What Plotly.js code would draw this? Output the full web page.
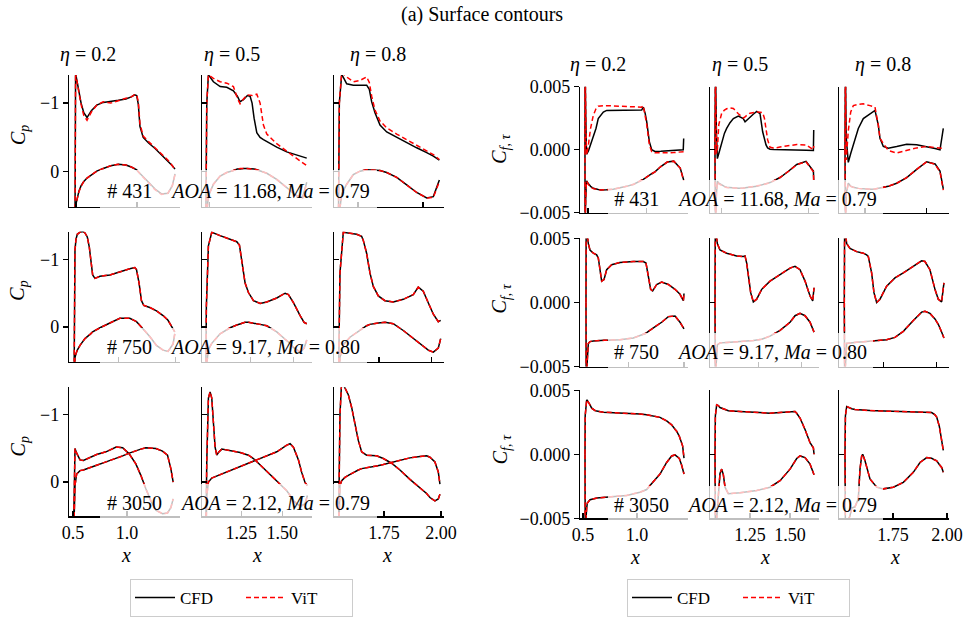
<!DOCTYPE html>
<html>
<head>
<meta charset="utf-8">
<script src="https://cdn.plot.ly/plotly-3.0.1.min.js"></script>
<style>
  html, body { margin: 0; padding: 0; background: #ffffff; }
  #chart { width: 963px; height: 617px; }
</style>
</head>
<body>
<div id="chart"></div>
<script>
// ------------------------------------------------------------------
// Labels
// ------------------------------------------------------------------
const etaValues  = ['0.2', '0.5', '0.8'];
const sampleIds  = ['431', '750', '3050'];
const aoaValues  = ['11.68', '9.17', '2.12'];
const machValues = ['0.79', '0.80', '0.79'];
const seriesNames = ['CFD', 'ViT'];

const cpTickVals = [-1, 0];
const cpTickText = ['\u22121', '0'];
const cfTickVals = [-0.005, 0, 0.005];
const cfTickText = ['\u22120.005', '0.000', '0.005'];
const xTickVals = [[0.5, 1.0], [1.25, 1.5], [1.75, 2.0]];
const xTickText = [['0.5', '1.0'], ['1.25', '1.50'], ['1.75', '2.00']];
// unlabelled x tick marks of the upper two rows
const cpRowTicks = [[[0.528, 1.093], [1.059], [1.636, 1.921]],
                    [[0.919, 1.451], [1.305, 1.567], [1.728, 1.959]]];
const cfRowTicks = [[[0.546, 1.089], [1.073, 1.615], [1.620, 1.906]],
                    [[0.919, 1.435], [1.302, 1.573], [1.705, 1.952]]];

// ------------------------------------------------------------------
// Sample #431 : Cp  (sections eta = 0.2, 0.5, 0.8)
// ------------------------------------------------------------------
const cpX_431 = [
  [0.518, 0.520, 0.524, 0.53, 0.54, 0.555, 0.575, 0.60, 0.63, 0.67, 0.72, 0.78, 0.85, 0.92, 0.99, 1.04, 1.07, 1.09, 1.105, 1.12, 1.15, 1.20, 1.26, 1.32, 1.38, 1.42, 1.445],
  [1.034, 1.0405, 1.0505, 1.081, 1.122, 1.1625, 1.203, 1.227, 1.2436, 1.264, 1.288, 1.3046, 1.3168, 1.329, 1.3455, 1.3656, 1.386, 1.4065, 1.467, 1.528, 1.589, 1.625, 1.650],
  [1.5495, 1.554, 1.5644, 1.5863, 1.6153, 1.6446, 1.6739, 1.6855, 1.6959, 1.7104, 1.7324, 1.7617, 1.8056, 1.8495, 1.8933, 1.9372, 1.9664, 1.9928]
];
const cpUpCFD_431 = [
  [1.0, -0.6, -1.45, -1.38, -1.28, -1.17, -1.0, -0.86, -0.79, -0.89, -0.97, -1.01, -1.02, -1.04, -1.06, -1.09, -1.12, -1.11, -0.98, -0.66, -0.50, -0.42, -0.34, -0.25, -0.16, -0.09, -0.04],
  [1.0, -1.0, -1.41, -1.31, -1.24, -1.23, -1.18, -1.10, -1.02, -1.05, -1.11, -1.10, -1.0, -0.78, -0.57, -0.50, -0.47, -0.44, -0.36, -0.29, -0.25, -0.22, -0.20],
  [1.0, -1.0, -1.42, -1.28, -1.26, -1.26, -1.26, -1.20, -1.02, -0.86, -0.68, -0.58, -0.50, -0.42, -0.35, -0.28, -0.23, -0.17]
];
const cpUpViT_431 = [
  [1.0, -0.6, -1.45, -1.38, -1.27, -1.15, -0.98, -0.82, -0.75, -0.87, -0.97, -1.02, -1.00, -1.04, -1.07, -1.09, -1.12, -1.12, -1.02, -0.70, -0.52, -0.44, -0.35, -0.25, -0.17, -0.09, -0.03],
  [1.0, -1.0, -1.41, -1.36, -1.31, -1.29, -1.24, -1.07, -0.99, -1.06, -1.12, -1.11, -1.11, -1.12, -1.13, -1.0, -0.68, -0.55, -0.41, -0.30, -0.20, -0.13, -0.09],
  [1.0, -1.0, -1.45, -1.38, -1.31, -1.33, -1.38, -1.30, -1.10, -0.90, -0.74, -0.64, -0.55, -0.47, -0.38, -0.31, -0.25, -0.18]
];
const cpLoCFD_431 = [
  [1.0, 0.75, 0.55, 0.45, 0.36, 0.28, 0.2, 0.14, 0.09, 0.04, -0.01, -0.05, -0.09, -0.11, -0.10, -0.07, -0.05, -0.03, 0.0, 0.02, 0.07, 0.15, 0.25, 0.32, 0.31, 0.2, 0.03],
  [1.0, 0.6, 0.35, 0.18, 0.06, 0.01, -0.02, -0.04, -0.04, -0.05, -0.05, -0.05, -0.04, -0.04, -0.03, -0.01, 0.0, 0.02, 0.11, 0.23, 0.35, 0.37, 0.15],
  [1.0, 0.6, 0.32, 0.18, 0.04, -0.01, -0.03, -0.03, -0.03, -0.03, -0.02, 0.01, 0.08, 0.19, 0.30, 0.38, 0.36, 0.12]
];
const cpLoViT_431 = [
  [1.0, 0.75, 0.55, 0.45, 0.37, 0.29, 0.21, 0.14, 0.09, 0.04, -0.01, -0.05, -0.09, -0.11, -0.10, -0.07, -0.05, -0.03, 0.0, 0.03, 0.08, 0.16, 0.26, 0.33, 0.31, 0.2, 0.04],
  [1.0, 0.6, 0.35, 0.18, 0.06, 0.01, -0.02, -0.04, -0.05, -0.05, -0.05, -0.05, -0.04, -0.04, -0.03, -0.01, 0.0, 0.02, 0.11, 0.23, 0.35, 0.38, 0.17],
  [1.0, 0.6, 0.32, 0.18, 0.04, -0.01, -0.03, -0.03, -0.03, -0.03, -0.02, 0.01, 0.08, 0.19, 0.30, 0.38, 0.37, 0.14]
];

// Sample #431 : Cf,tau (values in units of 1e-3)
const cfX_431 = [
  [0.518, 0.519, 0.525, 0.530, 0.534, 0.55, 0.57, 0.595, 0.62, 0.641, 0.665, 0.688, 0.719, 0.78, 0.85, 0.904, 0.97, 1.043, 1.058, 1.075, 1.09, 1.114, 1.136, 1.166, 1.22, 1.28, 1.34, 1.40, 1.428, 1.432],
  [1.031, 1.034, 1.04, 1.046, 1.055, 1.073, 1.09, 1.104, 1.125, 1.146, 1.177, 1.208, 1.219, 1.235, 1.25, 1.27, 1.292, 1.3125, 1.329, 1.34, 1.35, 1.36, 1.375, 1.40, 1.4375, 1.49, 1.542, 1.60, 1.646, 1.648],
  [1.5278, 1.5297, 1.5333, 1.5430, 1.5542, 1.5663, 1.5894, 1.6125, 1.6435, 1.6667, 1.6820, 1.6898, 1.7052, 1.7281, 1.7671, 1.8134, 1.8597, 1.9060, 1.9448, 1.9676, 1.9829]
];
const cfUpCFD_431 = [
  [0, 7, 3, 0.5, -0.35, -0.1, 0.39, 0.9, 1.69, 2.47, 2.73, 2.99, 3.12, 3.12, 3.12, 3.12, 3.12, 3.15, 3.38, 2.9, 2.21, 0.65, 0.0, -0.13, -0.12, -0.08, -0.05, -0.02, 0.0, 0.9],
  [0, 7, 1.5, -0.7, -0.3, 0.65, 1.3, 1.69, 2.15, 2.47, 2.68, 2.47, 2.21, 2.4, 2.6, 2.82, 3.04, 2.86, 1.43, 0.8, 0.39, 0.15, 0.05, 0.02, 0, -0.02, -0.03, -0.04, -0.05, 1.56],
  [0, 7, 1.0, -1.0, -0.3, 0.39, 1.69, 2.47, 2.86, 3.12, 1.95, 0.91, 0.26, 0.13, 0.26, 0.44, 0.39, 0.26, 0.1, 0.0, 1.69]
];
const cfUpViT_431 = [
  [0, 7, 3, 0.5, -0.4, 0.39, 1.7, 2.73, 3.25, 3.46, 3.5, 3.5, 3.5, 3.48, 3.45, 3.43, 3.4, 3.38, 3.5, 2.7, 2.0, 0.4, -0.15, -0.24, -0.26, -0.24, -0.22, -0.2, -0.18, -0.15],
  [0, 7, -0.3, 0.0, 2.0, 2.9, 3.15, 3.25, 3.32, 3.28, 2.86, 2.52, 2.6, 2.8, 2.9, 2.95, 2.99, 2.98, 2.94, 2.5, 1.5, 0.8, 0.2, 0.13, 0.22, 0.35, 0.42, 0.38, 0.0, 0.3],
  [0, 7, -0.8, 1.5, 3.0, 3.5, 3.6, 3.64, 3.5, 3.38, 1.95, 0.91, 0.5, -0.05, -0.26, -0.05, 0.15, 0.26, 0.2, 0.13, 0.1]
];
const cfLoCFD_431 = [
  [0, -6, -4.0, -2.8, -2.47, -2.7, -2.9, -3.05, -3.12, -3.15, -3.18, -3.19, -3.17, -3.12, -3.02, -2.9, -2.73, -2.45, -2.34, -2.25, -2.15, -2.0, -1.9, -1.75, -1.33, -0.97, -0.9, -1.45, -2.2, -2.4],
  [0, -6, -3.5, -2.5, -2.65, -2.8, -2.9, -2.97, -3.0, -3.03, -3.04, -3.03, -3.02, -3.0, -2.98, -2.95, -2.9, -2.82, -2.78, -2.75, -2.7, -2.66, -2.6, -2.45, -2.2, -1.7, -1.17, -0.92, -1.69, -2.4],
  [0, -6, -3.5, -2.65, -2.88, -2.97, -3.06, -3.1, -3.12, -3.1, -3.06, -3.04, -3.0, -2.9, -2.65, -2.2, -1.55, -0.95, -1.12, -1.69, -3.1]
];
const cfLoViT_431 = [
  [0, -6, -4.0, -2.8, -2.5, -2.75, -2.95, -3.08, -3.14, -3.16, -3.18, -3.19, -3.17, -3.12, -3.02, -2.9, -2.73, -2.45, -2.34, -2.25, -2.15, -2.0, -1.9, -1.75, -1.33, -0.97, -0.9, -1.45, -2.2, -2.45],
  [0, -6, -3.5, -2.55, -2.7, -2.85, -2.93, -2.99, -3.02, -3.04, -3.05, -3.04, -3.02, -3.0, -2.98, -2.95, -2.9, -2.82, -2.78, -2.75, -2.7, -2.66, -2.6, -2.45, -2.2, -1.72, -1.18, -0.95, -1.75, -2.5],
  [0, -6, -3.5, -2.7, -2.9, -2.98, -3.06, -3.1, -3.12, -3.1, -3.06, -3.04, -3.0, -2.9, -2.65, -2.2, -1.55, -0.95, -1.15, -1.75, -3.2]
];

// ------------------------------------------------------------------
// Sample #750 (ViT indistinguishable from CFD at this scale)
// ------------------------------------------------------------------
const cpX_750 = [
  [0.509, 0.512, 0.5185, 0.528, 0.540, 0.565, 0.59, 0.611, 0.6325, 0.651, 0.6635, 0.682, 0.7035, 0.75, 0.842, 0.9335, 1.026, 1.0725, 1.088, 1.112, 1.134, 1.1555, 1.211, 1.273, 1.334, 1.38, 1.427, 1.4425],
  [1.034, 1.038, 1.0505, 1.0709, 1.1217, 1.1827, 1.2234, 1.2396, 1.2478, 1.26, 1.2742, 1.2945, 1.325, 1.3657, 1.4063, 1.4673, 1.5181, 1.5384, 1.5689, 1.6096, 1.634, 1.6502],
  [1.5495, 1.5568, 1.5714, 1.6007, 1.6299, 1.6518, 1.6591, 1.6737, 1.6883, 1.703, 1.7249, 1.7541, 1.7906, 1.8345, 1.8783, 1.9002, 1.9221, 1.944, 1.9664, 1.988, 1.9986]
];
const cpUpCFD_750 = [
  [1.0, -0.3, -1.14, -1.30, -1.37, -1.40, -1.41, -1.39, -1.33, -1.18, -0.99, -0.77, -0.72, -0.75, -0.77, -0.82, -0.86, -0.88, -0.85, -0.65, -0.39, -0.32, -0.29, -0.24, -0.17, -0.1, 0.02, 0.07],
  [1.0, -0.3, -1.2, -1.40, -1.35, -1.30, -1.26, -1.21, -1.09, -0.85, -0.65, -0.51, -0.39, -0.35, -0.37, -0.43, -0.5, -0.48, -0.36, -0.17, -0.07, -0.05],
  [1.0, -0.8, -1.40, -1.39, -1.37, -1.34, -1.28, -1.09, -0.8, -0.6, -0.46, -0.39, -0.37, -0.41, -0.48, -0.59, -0.53, -0.36, -0.19, -0.08, -0.1]
];
const cpLoCFD_750 = [
  [1.0, 0.7, 0.45, 0.39, 0.34, 0.27, 0.21, 0.17, 0.14, 0.12, 0.1, 0.07, 0.05, 0.01, -0.06, -0.13, -0.13, -0.1, -0.08, -0.04, 0.0, 0.03, 0.14, 0.27, 0.34, 0.36, 0.25, 0.1],
  [1.0, 0.6, 0.33, 0.24, 0.1, 0.01, -0.03, -0.05, -0.05, -0.06, -0.07, -0.07, -0.06, -0.04, -0.02, 0.07, 0.18, 0.22, 0.3, 0.37, 0.31, 0.19],
  [1.0, 0.45, 0.26, 0.15, 0.08, 0.03, 0.01, -0.02, -0.04, -0.05, -0.06, -0.07, -0.05, 0.05, 0.17, 0.23, 0.29, 0.34, 0.37, 0.31, 0.17]
];
const cpUpViT_750 = cpUpCFD_750;
const cpLoViT_750 = cpLoCFD_750;

const cfX_750 = [
  [0.5276, 0.529, 0.549, 0.5645, 0.5954, 0.6263, 0.6417, 0.6571, 0.6726, 0.6942, 0.7189, 0.7652, 0.8424, 0.9657, 1.0583, 1.083, 1.105, 1.1262, 1.145, 1.182, 1.228, 1.29, 1.3517, 1.398, 1.429, 1.435],
  [1.0313, 1.033, 1.0458, 1.0625, 1.104, 1.1667, 1.2083, 1.2188, 1.2292, 1.2396, 1.2542, 1.2708, 1.2917, 1.3229, 1.375, 1.4375, 1.5, 1.5313, 1.5625, 1.5938, 1.625, 1.6417, 1.65],
  [1.5246, 1.5260, 1.5354, 1.5508, 1.5817, 1.6125, 1.6280, 1.6357, 1.6511, 1.6619, 1.6743, 1.6897, 1.7205, 1.7591, 1.7977, 1.8440, 1.8826, 1.8980, 1.9211, 1.9443, 1.9597, 1.9751, 1.9859]
];
const cfUpCFD_750 = [
  [0, 6, 4.6, 4.1, 3.85, 3.72, 3.46, 2.31, 1.67, 1.79, 2.56, 2.95, 3.13, 3.2, 3.2, 3.08, 2.05, 1.03, 0.9, 1.41, 1.59, 1.41, 1.03, 0.64, 0.15, 0.7],
  [0, 6, 4.6, 4.1, 3.85, 3.64, 3.59, 3.64, 3.08, 2.05, 0.77, 0.05, 0.26, 1.03, 1.67, 2.18, 2.69, 2.82, 2.56, 1.67, 0.51, 0.13, 1.15],
  [0, 6, 4.6, 4.23, 3.97, 3.85, 3.72, 3.59, 2.31, 0.77, 0.0, 0.26, 1.28, 1.92, 2.31, 2.82, 3.26, 3.2, 2.56, 1.03, 0.26, 0.05, 1.54]
];
const cfLoCFD_750 = [
  [0, -6, -3.2, -3.05, -3.0, -2.97, -2.96, -2.96, -2.95, -2.95, -2.95, -2.94, -2.9, -2.77, -2.51, -2.4, -2.25, -2.1, -2.02, -1.8, -1.54, -1.1, -1.05, -1.54, -1.92, -2.05],
  [0, -6, -3.3, -3.15, -3.12, -3.08, -3.05, -3.04, -3.03, -3.02, -3.0, -2.97, -2.93, -2.87, -2.62, -2.18, -1.54, -1.03, -0.85, -1.03, -1.54, -2.0, -2.31],
  [0, -6, -3.2, -3.15, -3.1, -3.07, -3.05, -3.05, -3.03, -3.02, -3.0, -2.97, -2.9, -2.72, -2.25, -1.41, -0.75, -0.69, -0.85, -1.28, -1.7, -2.3, -2.77]
];
const cfUpViT_750 = cfUpCFD_750;
const cfLoViT_750 = cfLoCFD_750;

// ------------------------------------------------------------------
// Sample #3050 (ViT indistinguishable from CFD at this scale)
// ------------------------------------------------------------------
const cpX_3050 = [
  [0.503, 0.5093, 0.5185, 0.534, 0.565, 0.5958, 0.642, 0.719, 0.8056, 0.9, 0.96, 1.0204, 1.082, 1.1284, 1.1747, 1.221, 1.2673, 1.329, 1.3753, 1.4062, 1.4278],
  [1.034, 1.0404, 1.0505, 1.0607, 1.0709, 1.081, 1.0912, 1.1014, 1.1115, 1.1319, 1.1827, 1.2437, 1.2945, 1.325, 1.3555, 1.4063, 1.4673, 1.5283, 1.5486, 1.5689, 1.5994, 1.6197, 1.6401, 1.654],
  [1.5495, 1.5568, 1.5641, 1.5787, 1.5933, 1.608, 1.6226, 1.6372, 1.6518, 1.6737, 1.7176, 1.7468, 1.7833, 1.8199, 1.8637, 1.9076, 1.9368, 1.9514, 1.9733, 1.988, 1.9953]
];
const cpUpCFD_3050 = [
  [1.0, -0.1, -0.5, -0.43, -0.33, -0.32, -0.35, -0.41, -0.45, -0.52, -0.51, -0.42, -0.27, -0.1, 0.1, 0.28, 0.42, 0.47, 0.46, 0.38, 0.25],
  [1.0, -0.3, -1.25, -1.34, -1.25, -0.91, -0.52, -0.4, -0.44, -0.49, -0.47, -0.44, -0.4, -0.35, -0.28, -0.16, -0.01, 0.13, 0.2, 0.28, 0.34, 0.35, 0.32, 0.2],
  [1.0, -1.0, -1.5, -1.4, -1.3, -1.11, -0.86, -0.62, -0.45, -0.4, -0.39, -0.35, -0.28, -0.18, -0.04, 0.08, 0.17, 0.23, 0.28, 0.25, 0.18]
];
const cpLoCFD_3050 = [
  [1.0, 0.3, 0.05, -0.12, -0.17, -0.18, -0.21, -0.25, -0.3, -0.35, -0.39, -0.43, -0.47, -0.49, -0.51, -0.51, -0.5, -0.46, -0.40, -0.2, 0.0],
  [1.0, 0.2, 0.0, -0.04, -0.06, -0.07, -0.08, -0.09, -0.1, -0.12, -0.17, -0.23, -0.28, -0.31, -0.34, -0.39, -0.45, -0.55, -0.57, -0.52, -0.33, -0.14, 0.01, 0.05],
  [1.0, 0.05, -0.02, -0.07, -0.1, -0.13, -0.16, -0.18, -0.2, -0.21, -0.24, -0.26, -0.29, -0.33, -0.36, -0.38, -0.39, -0.37, -0.3, -0.15, 0.03]
];
const cpUpViT_3050 = cpUpCFD_3050;
const cpLoViT_3050 = cpLoCFD_3050;

const cfX_3050 = [
  [0.5184, 0.52, 0.5338, 0.54, 0.5647, 0.5801, 0.611, 0.6264, 0.6881, 0.7807, 0.9041, 1.0276, 1.0893, 1.1201, 1.2127, 1.2744, 1.3053, 1.3207, 1.3516, 1.367, 1.3917, 1.4133, 1.4226, 1.435],
  [1.0313, 1.0335, 1.0417, 1.0521, 1.0625, 1.0729, 1.0833, 1.0938, 1.1042, 1.1146, 1.1875, 1.2917, 1.375, 1.4375, 1.5, 1.5313, 1.5417, 1.5625, 1.5938, 1.625, 1.6458, 1.65],
  [1.5278, 1.5297, 1.5356, 1.5509, 1.5588, 1.5741, 1.5894, 1.5972, 1.6050, 1.6097, 1.6204, 1.6435, 1.6746, 1.7051, 1.7514, 1.7977, 1.8440, 1.8750, 1.9060, 1.9292, 1.9443, 1.9523, 1.9644, 1.9754, 1.9829]
];
const cfUpCFD_3050 = [
  [0, 3.0, 4.24, 4.2, 3.86, 3.6, 3.42, 3.37, 3.29, 3.26, 3.22, 3.14, 3.08, 3.03, 2.88, 2.6, 2.44, 2.3, 1.95, 1.8, 1.4, 0.9, 0.64, -0.3],
  [0, 3.0, 3.86, 3.8, 3.65, 3.6, 3.5, 3.45, 3.42, 3.4, 3.34, 3.26, 3.21, 3.26, 3.34, 3.34, 3.2, 2.83, 1.93, 0.9, 0.51, 0.0],
  [0, 3.0, 3.73, 3.6, 3.55, 3.5, 3.47, 3.45, 3.44, 3.43, 3.42, 3.41, 3.39, 3.38, 3.36, 3.33, 3.3, 3.29, 3.27, 3.26, 3.08, 2.9, 2.19, 1.16, 0.3]
];
const cfLoCFD_3050 = [
  [0, -6, -4.2, -3.8, -3.55, -3.5, -3.45, -3.42, -3.37, -3.34, -3.21, -2.96, -2.75, -2.44, -1.54, -0.64, -0.35, -0.13, -0.05, -0.15, -0.33, -0.85, -1.16, -1.54],
  [0, -6, -5, -3.0, -1.5, -1.16, -1.6, -2.57, -2.9, -3.08, -3.0, -2.83, -2.57, -2.06, -1.16, -0.55, -0.33, -0.13, -0.26, -0.77, -1.54, -1.6],
  [0, -6, -5.5, -4.8, -4.2, -4.1, -3.47, -1.16, -0.13, 0.0, -0.51, -1.93, -2.57, -2.7, -2.57, -2.19, -1.41, -0.64, -0.26, -0.31, -0.45, -0.51, -0.8, -1.03, -1.41]
];
const cfUpViT_3050 = cfUpCFD_3050;
const cfLoViT_3050 = cfLoCFD_3050;

// Grouped by sample (row)
const cpX = [cpX_431, cpX_750, cpX_3050];
const cpUpCFD = [cpUpCFD_431, cpUpCFD_750, cpUpCFD_3050];
const cpLoCFD = [cpLoCFD_431, cpLoCFD_750, cpLoCFD_3050];
const cpUpViT = [cpUpViT_431, cpUpViT_750, cpUpViT_3050];
const cpLoViT = [cpLoViT_431, cpLoViT_750, cpLoViT_3050];
const cfX = [cfX_431, cfX_750, cfX_3050];
const cfUpCFD = [cfUpCFD_431, cfUpCFD_750, cfUpCFD_3050];
const cfLoCFD = [cfLoCFD_431, cfLoCFD_750, cfLoCFD_3050];
const cfUpViT = [cfUpViT_431, cfUpViT_750, cfUpViT_3050];
const cfLoViT = [cfLoViT_431, cfLoViT_750, cfLoViT_3050];

// ------------------------------------------------------------------
// Geometry & style
// ------------------------------------------------------------------
const W = 963, H = 617;
const fx = p => p / W;
const fy = p => 1 - p / H;
const FONT = '"Liberation Serif", "DejaVu Serif", serif';
const BLACK = '#000000', RED = '#ff0000';

const panelDefs = [
  { kind: 'cp',
    cols: [[69, 180], [202, 312], [334, 444]],
    rows: [[76, 210], [235, 367], [393, 524]],
    xr: [[0.463, 1.491], [1.0114, 1.6821], [1.5306, 2.0131]],
    yr: [0.51, -1.41],
    X: cpX, UC: cpUpCFD, LC: cpLoCFD, UV: cpUpViT, LV: cpLoViT, scale: 1,
    tickVals: cpTickVals, tickText: cpTickText, rowTicks: cpRowTicks,
    legend: 'legend' },
  { kind: 'cf',
    cols: [[580, 688], [710, 819], [839, 949]],
    rows: [[88, 216], [242, 372], [396, 526]],
    xr: [[0.472, 1.472], [1.0, 1.681], [1.5, 2.0093]],
    yr: [-0.005, 0.005],
    X: cfX, UC: cfUpCFD, LC: cfLoCFD, UV: cfUpViT, LV: cfLoViT, scale: 1e-3,
    tickVals: cfTickVals, tickText: cfTickText, rowTicks: cfRowTicks,
    legend: 'legend2' }
];

const traces = [];
const layout = {
  width: W, height: H,
  margin: { l: 0, r: 0, t: 0, b: 0, pad: 0 },
  paper_bgcolor: '#ffffff', plot_bgcolor: 'rgba(0,0,0,0)',
  font: { family: FONT, color: '#000000', size: 18 },
  showlegend: true,
  annotations: []
};

panelDefs.forEach((P, pi) => {
  for (let r = 0; r < 3; r++) {
    for (let c = 0; c < 3; c++) {
      const n = pi * 9 + r * 3 + c + 1;
      const xa = 'x' + (n === 1 ? '' : n), ya = 'y' + (n === 1 ? '' : n);
      const xs = P.X[r][c];
      const sc = v => v * P.scale;
      const first = (r === 0 && c === 0);
      const curves = [
        { y: P.UC[r][c], name: seriesNames[0], color: BLACK, dash: 'solid', show: first },
        { y: P.LC[r][c], name: seriesNames[0], color: BLACK, dash: 'solid', show: false },
        { y: P.UV[r][c], name: seriesNames[1], color: RED, dash: '5px,3px', show: first },
        { y: P.LV[r][c], name: seriesNames[1], color: RED, dash: '5px,3px', show: false }
      ];
      curves.forEach(cv => {
        traces.push({
          type: 'scatter', mode: 'lines',
          x: xs, y: cv.y.map(sc),
          xaxis: xa, yaxis: ya,
          name: cv.name, legendgroup: P.kind + cv.name,
          showlegend: cv.show, legend: P.legend,
          line: { color: cv.color, width: 1.5, dash: cv.dash },
          hoverinfo: 'skip'
        });
      });
      const bottom = (r === 2);
      const xAxis = {
        domain: [fx(P.cols[c][0]), fx(P.cols[c][1])],
        range: P.xr[c], anchor: ya,
        showline: true, linecolor: BLACK, linewidth: 1.2, mirror: false,
        showgrid: false, zeroline: false,
        ticks: 'inside', ticklen: 5, tickwidth: 1.2, tickcolor: BLACK,
        tickmode: 'array',
        tickvals: bottom ? xTickVals[c] : P.rowTicks[r][c],
        showticklabels: bottom,
        tickfont: { family: FONT, size: 18, color: BLACK },
        fixedrange: true
      };
      if (bottom) xAxis.ticktext = xTickText[c];
      layout['xaxis' + (n === 1 ? '' : n)] = xAxis;
      const yAxis = {
        domain: [fy(P.rows[r][1]), fy(P.rows[r][0])],
        range: P.yr, anchor: xa,
        showline: true, linecolor: BLACK, linewidth: 1.2, mirror: false,
        showgrid: false, zeroline: false,
        ticks: c === 0 ? 'outside' : 'inside', ticklen: 5, tickwidth: 1.2, tickcolor: BLACK,
        tickmode: 'array', tickvals: P.tickVals,
        showticklabels: c === 0,
        tickfont: { family: FONT, size: 18, color: BLACK },
        fixedrange: true
      };
      if (c === 0) yAxis.ticktext = P.tickText;
      layout['yaxis' + (n === 1 ? '' : n)] = yAxis;
    }
  }
});

// ------------------------------------------------------------------
// Text annotations
// ------------------------------------------------------------------
const A = layout.annotations;
const txt = (text, x, y, size, extra, fontExtra) => A.push(Object.assign({
  text, x: fx(x), y: fy(y), xref: 'paper', yref: 'paper',
  xanchor: 'center', yanchor: 'middle', showarrow: false,
  font: Object.assign({ family: FONT, size, color: BLACK }, fontExtra || {})
}, extra || {}));

txt('(a) Surface contours', 482, 15, 20);

const etaPos = [[[88, 55], [232, 55], [378, 55]], [[598, 65], [740, 65], [883, 65]]];
const yTitlePos = [[[19, 137], [19, 295], [19, 453]], [[501, 151], [501, 303], [501, 456]]];
const xTitlePos = [[126, 257, 387], [635, 765, 895]];
const xTitleY = [563, 565];
const SUB = 'font-size:14px;font-style:italic';
const yTitles = [
  '<i>C</i><sub><span style="' + SUB + '">p</span></sub>',
  '<i>C</i><sub><span style="' + SUB + '">f, τ</span></sub>'
];
const boxGeom = [
  [[238.5, 193.5, 277, 41], [233.5, 352, 267, 38], [238.5, 509.5, 277, 37]],
  [[745.5, 201.5, 275, 37], [740.5, 357, 265, 38], [745.5, 511.5, 275, 37]]
];

for (let pi = 0; pi < 2; pi++) {
  for (let c = 0; c < 3; c++) {
    txt('<i>η</i> = ' + etaValues[c], etaPos[pi][c][0], etaPos[pi][c][1], 20);
    txt('x', xTitlePos[pi][c], xTitleY[pi], 20, { borderpad: 0 }, { style: 'italic' });
  }
  for (let r = 0; r < 3; r++) {
    txt(yTitles[pi], yTitlePos[pi][r][0], yTitlePos[pi][r][1], 20, { textangle: -90 });
    const g = boxGeom[pi][r];
    const label = '# ' + sampleIds[r] + '\u00a0\u00a0\u00a0\u00a0<i>AOA</i> = ' + aoaValues[r] +
                  ', <i>Ma</i> = ' + machValues[r];
    txt(label, g[0], g[1], 20, {
      bgcolor: 'rgba(255,255,255,0.75)', width: g[2], height: g[3],
      borderpad: 0, borderwidth: 0, align: 'center', valign: 'middle'
    });
  }
}

const legendStyle = x => ({
  x: fx(x), y: fy(588), xref: 'paper', yref: 'paper',
  xanchor: 'left', yanchor: 'top', orientation: 'h',
  bgcolor: '#ffffff', bordercolor: '#cccccc', borderwidth: 1,
  font: { family: FONT, size: 17, color: BLACK },
  entrywidth: 56, entrywidthmode: 'pixels', itemwidth: 40,
  tracegroupgap: 0
});
layout.legend = legendStyle(130);
layout.legend2 = legendStyle(627);

Plotly.newPlot('chart', traces, layout, { displayModeBar: false, staticPlot: true });
</script>
</body>
</html>
